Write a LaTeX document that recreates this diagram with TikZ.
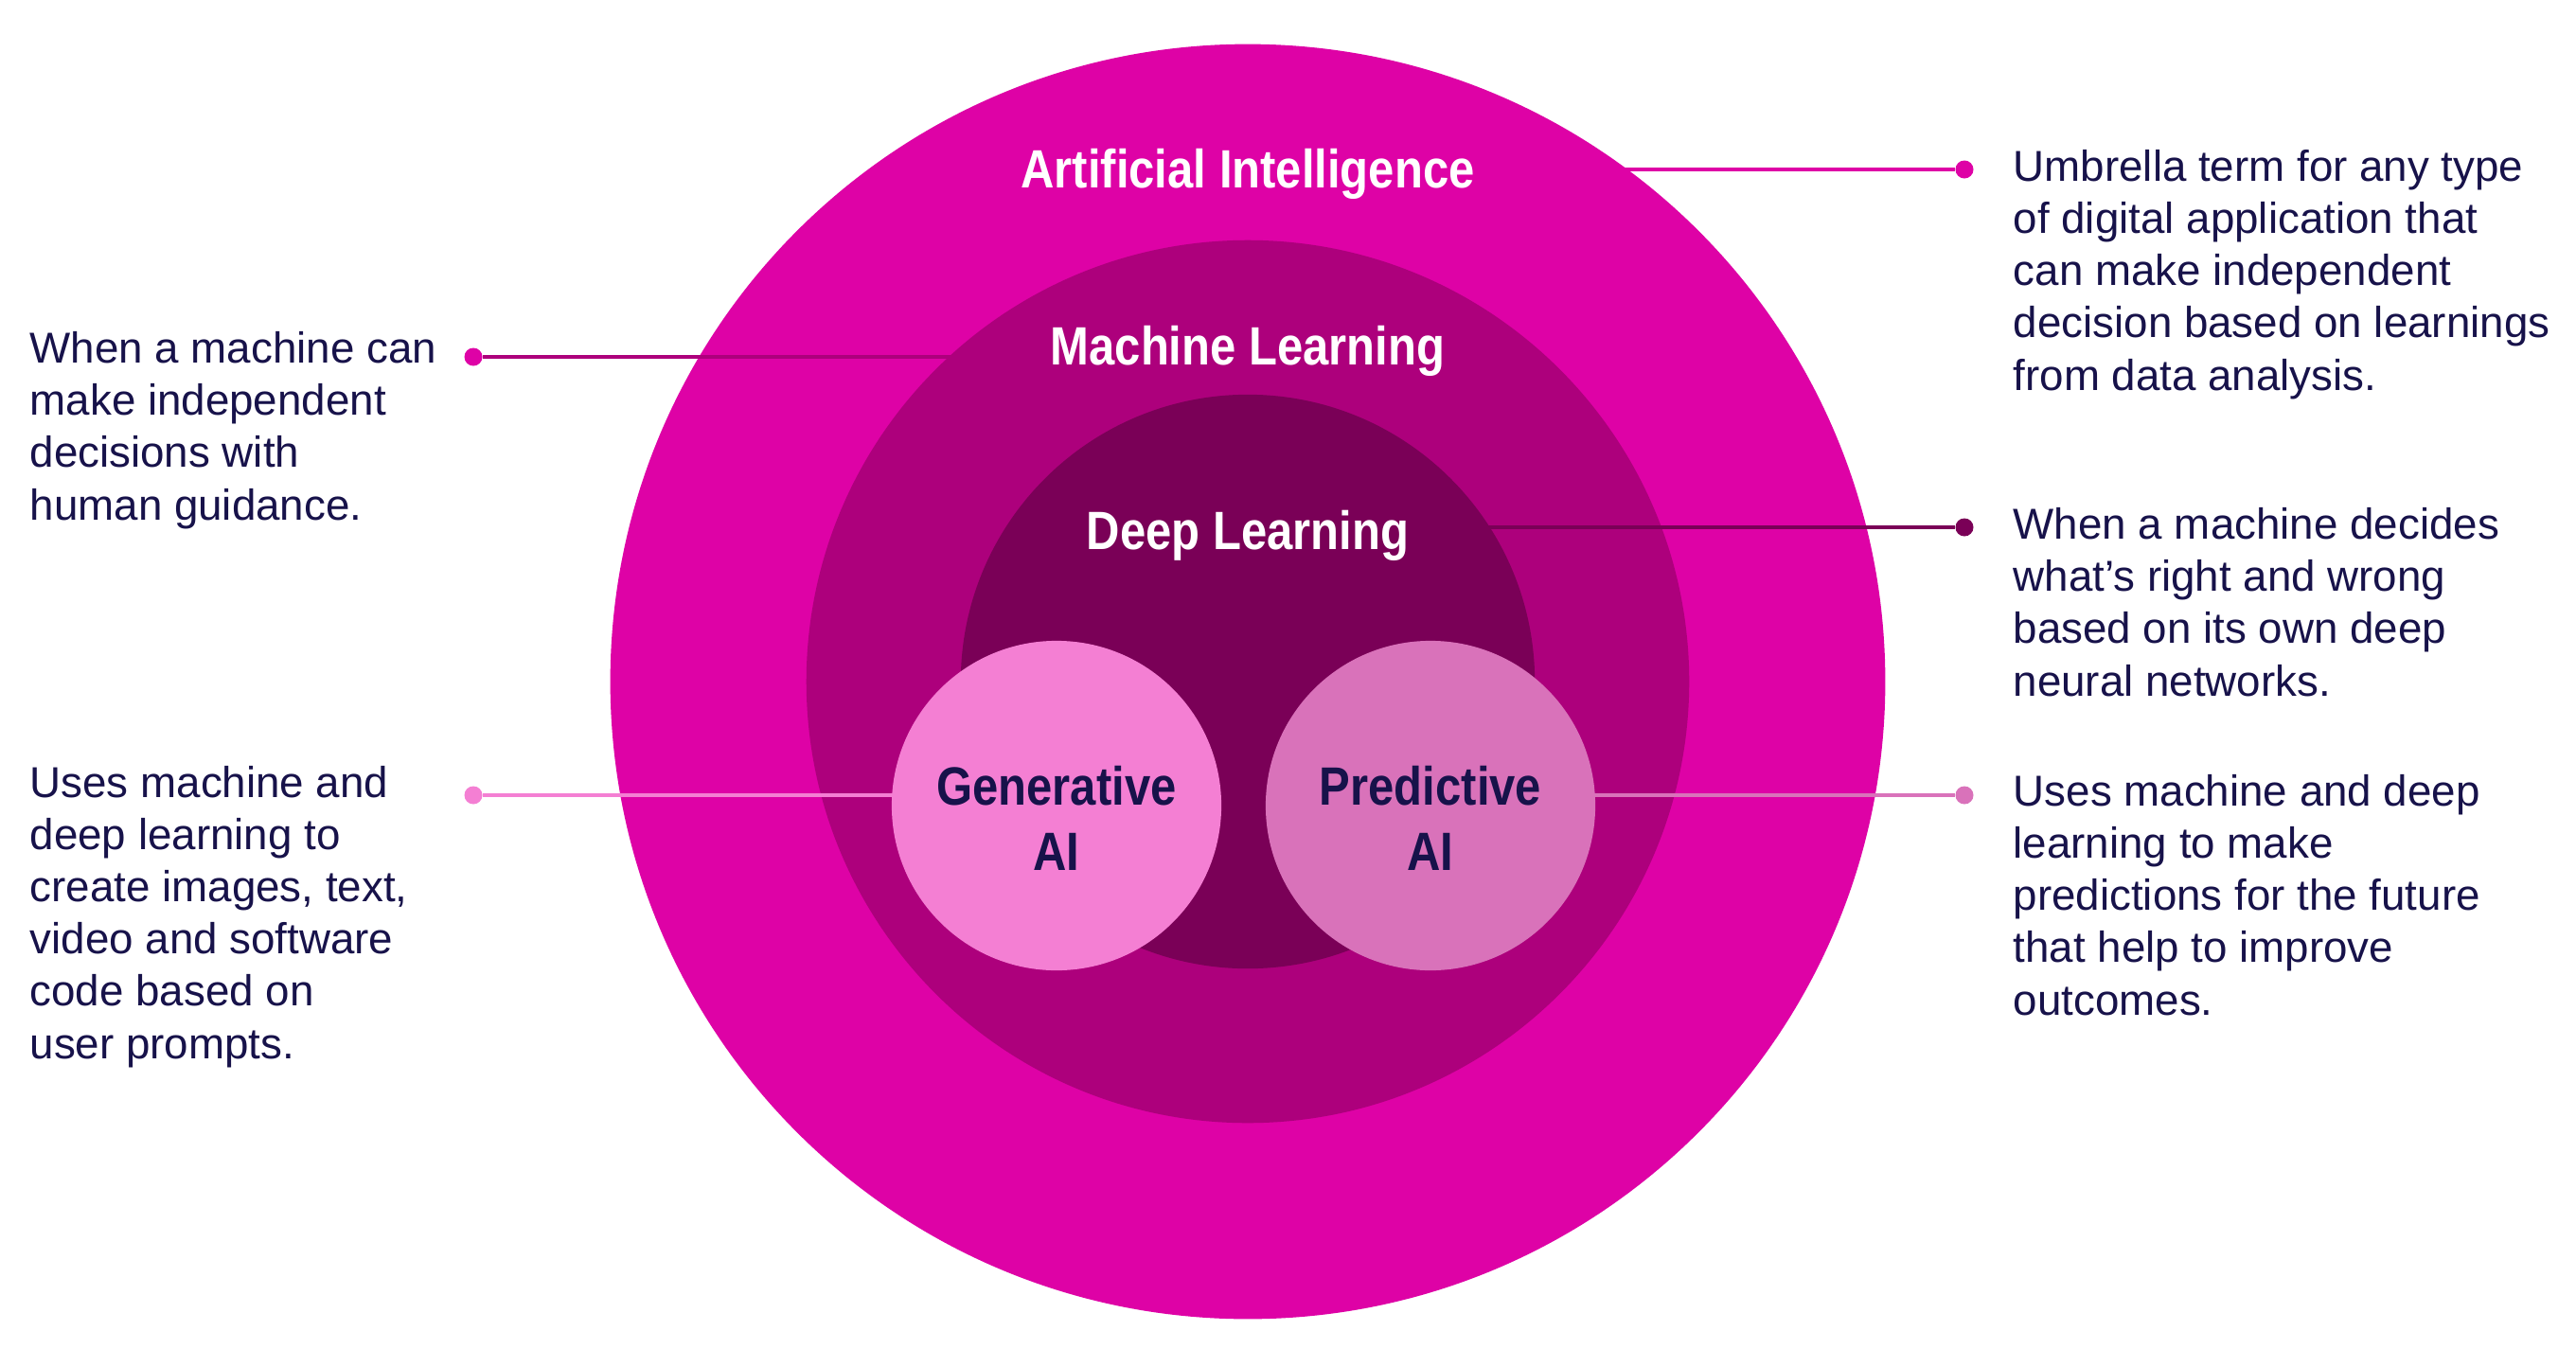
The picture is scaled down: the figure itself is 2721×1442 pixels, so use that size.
\documentclass[tikz,border=0pt]{standalone}
\usepackage{fontspec}
\setmainfont{Liberation Sans}
\newfontfamily\headfont[FakeStretch=0.86]{Liberation Sans}
\usetikzlibrary{positioning}

\definecolor{aipink}{HTML}{DE02A6}
\definecolor{mlpink}{HTML}{AD007C}
\definecolor{dlplum}{HTML}{7A0057}
\definecolor{genpink}{HTML}{F47FD3}
\definecolor{predpink}{HTML}{D972BA}
\definecolor{inkblue}{HTML}{17124A}

\begin{document}
\begin{tikzpicture}
        [x=0.01cm, y=-0.01cm,
        ring/.style={circle, inner sep=0pt, outer sep=0pt},
        dot/.style={circle, inner sep=0pt, minimum size=0.19cm},
        leader/.style={line width=0.04cm},
        head/.style={font=\headfont\bfseries\fontsize{16.2pt}{19.6pt}\selectfont, align=center, anchor=base, inner sep=0pt},
        blurb/.style={font=\fontsize{13pt}{15.65pt}\selectfont, text=inkblue, align=left, anchor=base west, inner sep=0pt}]

        \path [use as bounding box, fill=white] (0,0) rectangle (2721,1442);

        \coordinate (core) at (1318,720);
        \coordinate (gencore) at (1116,851);
        \coordinate (predcore) at (1511,851);

        % end points of the leaders
        \node[dot, fill=aipink] (aidot) at (2075,179) {};
        \node[dot, fill=aipink] (mldot) at (500,377) {};
        \node[dot, fill=dlplum] (dldot) at (2075,557) {};
        \node[dot, fill=genpink] (gendot) at (500,840) {};
        \node[dot, fill=predpink] (preddot) at (2075,840) {};

        % each leader goes under its own disc
        \draw[leader, aipink] (aidot) -- (aidot -| core);
        \node[ring, fill=aipink, minimum size=13.46cm] (ai) at (core) {};
        \draw[leader, mlpink] (mldot) -- (mldot -| core);
        \node[ring, fill=mlpink, minimum size=9.32cm] (ml) at (core) {};
        \draw[leader, dlplum] (dldot) -- (dldot -| core);
        \node[ring, fill=dlplum, minimum size=6.06cm] (dl) at (core) {};
        \draw[leader, genpink] (gendot) -- (gendot -| gencore);
        \draw[leader, predpink] (preddot) -- (preddot -| predcore);
        \node[ring, fill=genpink, minimum size=3.48cm] (gen) at (gencore) {};
        \node[ring, fill=predpink, minimum size=3.48cm] (pred) at (predcore) {};

        % base is the last line, so the y values are last baselines
        \node[head, text=white] (ailabel) at (1318,198) {Artificial Intelligence};
        \node[head, text=white] (mllabel) at (1318,385) {Machine Learning};
        \node[head, text=white] (dllabel) at (1318,580) {Deep Learning};
        \node[head, text=inkblue] (genlabel) at (1116,919) {Generative\\AI};
        \node[head, text=inkblue] (predlabel) at (1511,919) {Predictive\\AI};

        \node[blurb] (aitext) at (2126,412) {Umbrella term for any type\\of digital application that\\can make independent\\decision based on learnings\\from data analysis.};
        \node[blurb] (mltext) at (31,549) {When a machine can\\make independent\\decisions with\\human guidance.};
        \node[blurb] (dltext) at (2126,735) {When a machine decides\\what’s right and wrong\\based on its own deep\\neural networks.};
        \node[blurb] (gentext) at (31,1118) {Uses machine and\\deep learning to\\create images, text,\\video and software\\code based on\\user prompts.};
        \node[blurb] (predtext) at (2126,1072) {Uses machine and deep\\learning to make\\predictions for the future\\that help to improve\\outcomes.};
\end{tikzpicture}
\end{document}
